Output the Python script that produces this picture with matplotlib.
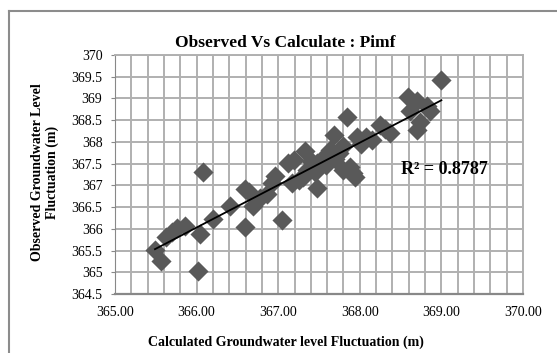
import numpy as np
import matplotlib
matplotlib.use("Agg")
import matplotlib.pyplot as plt
from matplotlib.lines import Line2D
from matplotlib.ticker import MultipleLocator, FormatStrFormatter

plt.rcParams['font.family'] = ['Liberation Serif', 'DejaVu Serif']

# calculated vs observed groundwater level fluctuation (m)
calculated = [365.49, 365.56, 365.63, 365.70, 365.76, 365.86, 366.04, 366.02, 366.08, 366.20,
              366.41, 366.59, 366.59, 366.64, 366.69, 366.78, 366.86, 366.96, 366.92, 367.05,
              367.12, 367.17, 367.19, 367.25, 367.31, 367.33, 367.35, 367.40, 367.45, 367.47,
              367.47, 367.55, 367.59, 367.63, 367.68, 367.70, 367.75, 367.80, 367.80, 367.84,
              367.88, 367.92, 367.94, 367.96, 368.02, 368.08, 368.15, 368.25, 368.31, 368.37,
              368.59, 368.62, 368.70, 368.74, 368.70, 368.82, 368.86, 369.00]
observed = [365.52, 365.25, 365.82, 365.92, 366.02, 366.06, 365.88, 365.02, 367.30, 366.22,
            366.52, 366.05, 366.92, 366.85, 366.52, 366.72, 366.80, 367.22, 367.05, 366.21,
            367.52, 367.05, 367.59, 367.13, 367.20, 367.78, 367.36, 367.55, 367.30, 366.94,
            367.51, 367.62, 367.48, 367.82, 368.16, 367.60, 367.75, 367.36, 367.90, 368.58,
            367.43, 367.28, 367.20, 368.12, 367.95, 368.12, 368.05, 368.38, 368.30, 368.20,
            369.04, 368.70, 368.95, 368.45, 368.28, 368.82, 368.70, 369.42]
r2_label = "R² = 0.8787"

W, H = 557, 353
fig = plt.figure(figsize=(W / 100, H / 100), dpi=100)
ax = fig.add_axes([115 / W, 1 - 294 / H, (523 - 115) / W, (294 - 55) / H])

ax.set_xlim(365, 370)
ax.set_ylim(364.5, 370)
ax.xaxis.set_major_locator(MultipleLocator(1))
ax.xaxis.set_minor_locator(MultipleLocator(0.2))
ax.xaxis.set_major_formatter(FormatStrFormatter('%.2f'))
ax.yaxis.set_major_locator(MultipleLocator(0.5))
ax.yaxis.set_major_formatter(lambda v, p: f"{v:g}")

# gridlines: every 0.2 across, every 0.5 up
ax.set_axisbelow(True)
ax.grid(True, which='major', axis='both', color='#b0b0b0', linewidth=1.4)
ax.grid(True, which='minor', axis='x', color='#b0b0b0', linewidth=1.4)

ax.scatter(calculated, observed, marker='D', s=105, color='#595959', zorder=3, linewidths=0)

slope, icpt = np.polyfit(calculated, observed, 1)
xs = np.array([min(calculated), max(calculated)])
ax.plot(xs, slope * xs + icpt, color='black', lw=1.3, zorder=4)

ax.tick_params(axis='x', which='both', length=0, pad=9, labelsize=10)
ax.tick_params(axis='y', length=3, color='#888888', pad=6, labelsize=10)
for s in ['top', 'right']:
    ax.spines[s].set_color('#b0b0b0')
    ax.spines[s].set_linewidth(1.4)
ax.spines['left'].set_color('#888888')
ax.spines['bottom'].set_color('#888888')
ax.spines['bottom'].set_linewidth(1.6)

ax.text(369.04, 367.36, r2_label, fontsize=13, fontweight='bold', ha='center', va='center', zorder=5)

fig.text(285 / W, 1 - 43 / H, "Observed Vs Calculate : Pimf", fontsize=12.5, fontweight='bold',
         ha='center', va='center')
fig.text(286 / W, 1 - 342 / H, "Calculated Groundwater level Fluctuation (m)", fontsize=10,
         fontweight='bold', ha='center', va='center')
fig.text(45 / W, 1 - 172 / H, "Observed Groundwater Level\nFluctuation (m)", fontsize=10,
         fontweight='bold', ha='center', va='center', rotation=90, linespacing=1.2)

# outer frame, clipped at the right and bottom like the source image
fig.add_artist(Line2D([9 / W, 9 / W], [-0.1, 1 - 11 / H], color='#8c8c8c', lw=1.5))
fig.add_artist(Line2D([9 / W, 1.1], [1 - 11 / H, 1 - 11 / H], color='#8c8c8c', lw=1.5))

fig.savefig("out.png", dpi=100)
